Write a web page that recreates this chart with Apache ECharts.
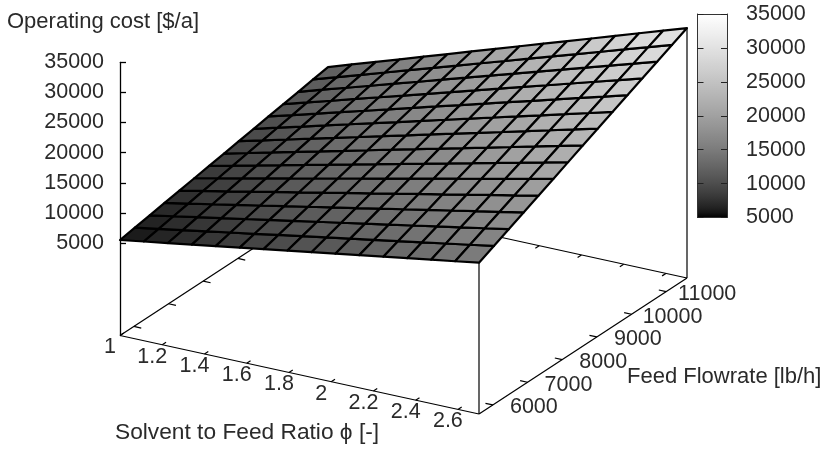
<!DOCTYPE html>
<html>
<head>
<meta charset="utf-8">
<style>html,body{margin:0;padding:0;background:#fff}#c{width:824px;height:450px}</style>
<script src="https://cdn.jsdelivr.net/npm/echarts@6/dist/echarts.min.js"></script>
</head>
<body>
<div id="c"></div>
<script>
const phiNodes = [1,1.113,1.227,1.34,1.453,1.567,1.68,1.793,1.907,2.02,2.133,2.247,2.36,2.473,2.587,2.7];
const feedNodes = [5600,6029,6457,6886,7314,7743,8171,8600,9029,9457,9886,10314,10743,11171,11600];
const cost00 = [5500,6120,6740,7350,7970,8590,9210,9830,10440,11060,11680,12300,12920,13530,14150,14770];
const cost01 = [5940,6610,7270,7940,8610,9270,9940,10610,11270,11940,12610,13270,13940,14610,15270,15940];
const cost02 = [6380,7090,7810,8520,9240,9960,10670,11390,12100,12820,13530,14250,14960,15680,16400,17110];
const cost03 = [6820,7580,8340,9110,9870,10640,11400,12170,12930,13700,14460,15220,15990,16750,17520,18280];
const cost04 = [7250,8070,8880,9690,10510,11320,12130,12950,13760,14570,15390,16200,17010,17830,18640,19450];
const cost05 = [7690,8560,9420,10280,11140,12000,12870,13730,14590,15450,16310,17180,18040,18900,19760,20620];
const cost06 = [8130,9040,9950,10860,11780,12690,13600,14510,15420,16330,17240,18150,19060,19970,20880,21800];
const cost07 = [8570,9530,10490,11450,12410,13370,14330,15290,16250,17210,18170,19130,20090,21050,22010,22970];
const cost08 = [9010,10020,11030,12030,13040,14050,15060,16070,17080,18090,19090,20100,21110,22120,23130,24140];
const cost09 = [9450,10500,11560,12620,13680,14730,15790,16850,17910,18960,20020,21080,22130,23190,24250,25310];
const cost10 = [9890,10990,12100,13200,14310,15420,16520,17630,18730,19840,20950,22050,23160,24270,25370,26480];
const cost11 = [10320,11480,12630,13790,14940,16100,17250,18410,19560,20720,21870,23030,24180,25340,26490,27650];
const cost12 = [10760,11970,13170,14370,15580,16780,17990,19190,20390,21600,22800,24000,25210,26410,27610,28820];
const cost13 = [11200,12450,13710,14960,16210,17460,18720,19970,21220,22470,23730,24980,26230,27480,28740,29990];
const cost14 = [11640,12940,14240,15540,16850,18150,19450,20750,22050,23350,24650,25950,27260,28560,29860,31160];
const costRows = [cost00,cost01,cost02,cost03,cost04,cost05,cost06,cost07,cost08,cost09,cost10,cost11,cost12,cost13,cost14];
const phiTicks = [1,1.2,1.4,1.6,1.8,2,2.2,2.4,2.6];
const feedTicks = [6000,7000,8000,9000,10000,11000];
const costTicks = [5000,10000,15000,20000,25000,30000,35000];
const zTitle = 'Operating cost [$/a]';
const phiTitle = 'Solvent to Feed Ratio \u03D5 [-]';
const feedTitle = 'Feed Flowrate [lb/h]';

const PHI0 = 1, PHI1 = 2.7, F0 = 5600, F1 = 11600, ZF = -10360, Z0 = 5000, Z1 = 35000;
const TICK_SIZE = 21.5, TITLE_SIZE = 22;
const TICK_FONT = TICK_SIZE + 'px "Liberation Sans"';
const TITLE_FONT = TITLE_SIZE + 'px "Liberation Sans"';
const TXT = '#2a2a2a';

function project(p, f, z) {
  const u = (p - PHI0) / (PHI1 - PHI0), v = (f - F0) / (F1 - F0);
  return [120 + 359 * u + 208 * v, 335.5 + 78.5 * u - 136 * v - (z - ZF) * 0.00602];
}
function grayOf(z) {
  const t = Math.max(0, Math.min(1, (z - Z0) / (Z1 - Z0)));
  const g = Math.round(255 * Math.pow(t, 1 / 1.5));
  return 'rgb(' + g + ',' + g + ',' + g + ')';
}

const frameSegs = [
  [PHI0, F0, ZF, PHI1, F0, ZF],
  [PHI1, F0, ZF, PHI1, F1, ZF],
  [PHI1, F1, ZF, PHI0, F1, ZF],
  [PHI0, F1, ZF, PHI0, F0, ZF],
  [PHI1, F0, ZF, PHI1, F0, cost00[15]],
  [PHI1, F1, ZF, PHI1, F1, cost14[15]]
];
phiTicks.forEach(p => {
  frameSegs.push([p, F0, ZF, p, F0 + 110, ZF]);
  frameSegs.push([p, F1, ZF, p, F1 - 110, ZF]);
});
feedTicks.forEach(f => {
  frameSegs.push([PHI1, f, ZF, PHI1 - 0.035, f, ZF]);
  frameSegs.push([PHI0, f, ZF, PHI0 + 0.035, f, ZF]);
});

const cells = [];
for (let j = 0; j < feedNodes.length - 1; j++)
  for (let i = 0; i < phiNodes.length - 1; i++) cells.push([i, j]);

const tickTexts = [];
phiTicks.forEach(p => tickTexts.push([p, F0, String(p), -10, 12]));
feedTicks.forEach(f => tickTexts.push([PHI1, f, String(f), 41, 2.5]));

const stops = [];
for (let k = 0; k <= 40; k++) stops.push({offset: k / 40, color: grayOf(Z1 - (Z1 - Z0) * k / 40)});

const hidden = {show: false};
const plain = v => String(v);
const chart = echarts.init(document.getElementById('c'), null, {renderer: 'canvas'});
chart.setOption({
  animation: false,
  backgroundColor: '#fff',
  grid: [
    {left: 0, top: 0, width: 824, height: 450},
    {left: 120, top: 62.3, width: 2, height: 273.2},
    {left: 697.5, top: 14, width: 29.5, height: 203.5}
  ],
  xAxis: [
    {gridIndex: 0, type: 'value', min: 0, max: 824, show: false},
    {gridIndex: 1, type: 'value', min: 0, max: 1, show: false},
    {gridIndex: 2, type: 'value', min: 0, max: 1, position: 'bottom', z: 5, axisLine: {onZero: false, lineStyle: {color: '#333', width: 1}}, axisTick: hidden, axisLabel: hidden, splitLine: hidden},
    {gridIndex: 2, type: 'value', min: 0, max: 1, position: 'top', z: 5, axisLine: {onZero: false, lineStyle: {color: '#333', width: 1}}, axisTick: hidden, axisLabel: hidden, splitLine: hidden}
  ],
  yAxis: [
    {gridIndex: 0, type: 'value', min: 0, max: 450, inverse: true, show: false},
    {gridIndex: 1, type: 'value', min: ZF, max: Z1, position: 'left',
      axisLine: {show: true, onZero: false, lineStyle: {color: '#000', width: 1.3}},
      axisTick: {show: true, inside: true, length: 6, customValues: costTicks, lineStyle: {color: '#000', width: 1.3}},
      axisLabel: {show: true, margin: 16, customValues: costTicks, formatter: plain, fontFamily: 'Liberation Sans', fontSize: TICK_SIZE, color: TXT, showMinLabel: true, showMaxLabel: true},
      splitLine: hidden},
    {gridIndex: 2, type: 'value', min: Z0, max: Z1, interval: 5000, position: 'right', z: 5,
      axisLine: {show: true, onZero: false, lineStyle: {color: '#333', width: 1}},
      axisTick: {show: true, inside: true, length: 6, lineStyle: {color: '#222', width: 1}},
      axisLabel: {show: true, margin: 19, formatter: plain, fontFamily: 'Liberation Sans', fontSize: TICK_SIZE, color: TXT},
      splitLine: hidden},
    {gridIndex: 2, type: 'value', min: Z0, max: Z1, interval: 5000, position: 'left', z: 5,
      axisLine: {show: true, onZero: false, lineStyle: {color: '#333', width: 1}},
      axisTick: {show: true, inside: true, length: 6, lineStyle: {color: '#222', width: 1}},
      axisLabel: hidden, splitLine: hidden}
  ],
  series: [
    {
      name: 'frame', type: 'custom', coordinateSystem: 'cartesian2d', xAxisIndex: 0, yAxisIndex: 0,
      z: 2, silent: true, clip: false, data: frameSegs,
      renderItem(params, api) {
        const a = project(api.value(0), api.value(1), api.value(2));
        const b = project(api.value(3), api.value(4), api.value(5));
        const pa = api.coord(a), pb = api.coord(b);
        return {type: 'line', shape: {x1: pa[0], y1: pa[1], x2: pb[0], y2: pb[1]}, style: {stroke: '#000', lineWidth: 1.2}};
      }
    },
    {
      name: 'surface', type: 'custom', coordinateSystem: 'cartesian2d', xAxisIndex: 0, yAxisIndex: 0,
      z: 3, silent: true, clip: false, data: cells,
      renderItem(params, api) {
        const i = api.value(0), j = api.value(1);
        const corners = [[i, j], [i + 1, j], [i + 1, j + 1], [i, j + 1]];
        let sum = 0;
        const pts = corners.map(c => {
          const z = costRows[c[1]][c[0]];
          sum += z;
          return api.coord(project(phiNodes[c[0]], feedNodes[c[1]], z));
        });
        return {type: 'polygon', shape: {points: pts}, style: {fill: grayOf(sum / 4), stroke: '#000', lineWidth: 2.2, lineJoin: 'round'}};
      }
    },
    {
      name: 'tickLabels', type: 'custom', coordinateSystem: 'cartesian2d', xAxisIndex: 0, yAxisIndex: 0,
      z: 4, silent: true, clip: false, data: tickTexts.map((t, k) => [k]),
      renderItem(params, api) {
        const t = tickTexts[api.value(0)];
        const p = api.coord(project(t[0], t[1], ZF));
        return {type: 'text', style: {text: t[2], x: p[0] + t[3], y: p[1] + t[4], align: 'center', verticalAlign: 'middle', font: TICK_FONT, fill: TXT}};
      }
    },
    {
      name: 'colorbar', type: 'custom', coordinateSystem: 'cartesian2d', xAxisIndex: 2, yAxisIndex: 2,
      z: 1, silent: true, data: [[0, Z1, 1, Z0]],
      renderItem(params, api) {
        const a = api.coord([api.value(0), api.value(1)]);
        const b = api.coord([api.value(2), api.value(3)]);
        return {type: 'rect', shape: {x: a[0], y: a[1], width: b[0] - a[0], height: b[1] - a[1]},
          style: {fill: new echarts.graphic.LinearGradient(0, 0, 0, 1, stops)}};
      }
    }
  ],
  graphic: [
    {type: 'text', left: 7, top: 11, style: {text: zTitle, font: TITLE_FONT, fill: TXT}},
    {type: 'text', left: 115, top: 422, scaleX: 1.033, style: {text: phiTitle, font: TITLE_FONT, fill: TXT}},
    {type: 'text', left: 627, top: 366, style: {text: feedTitle, font: TITLE_FONT, fill: TXT}}
  ]
});
</script>
</body>
</html>
